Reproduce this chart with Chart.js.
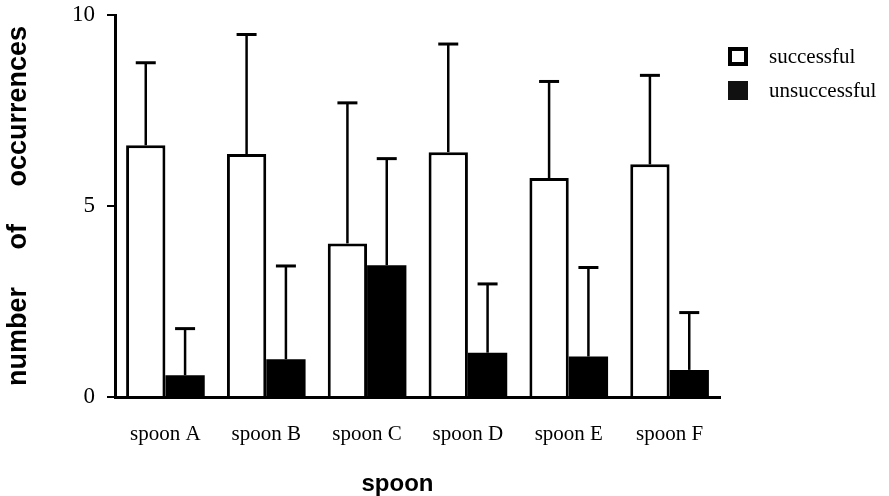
<!DOCTYPE html>
<html>
<head>
<meta charset="utf-8">
<script src="https://cdn.jsdelivr.net/npm/chart.js@4"></script>
<style>
  body { margin: 0; background: #fff; }
  #wrap { width: 889px; height: 496px; position: relative; }
</style>
</head>
<body>
<div id="wrap"><canvas id="spoonChart"></canvas></div>
<script>
// values
const spoons = ['spoon A', 'spoon B', 'spoon C', 'spoon D', 'spoon E', 'spoon F'];
const successful = [6.59, 6.36, 4.02, 6.41, 5.73, 6.09];
const successfulErr = [2.16, 3.13, 3.68, 2.83, 2.53, 2.33];
const unsuccessful = [0.57, 0.99, 3.45, 1.16, 1.06, 0.71];
const unsuccessfulErr = [1.22, 2.44, 2.79, 1.80, 2.33, 1.50];
const yTicks = [0, 5, 10];

const errors = [successfulErr, unsuccessfulErr];

// draws upper error bars with caps
const errorBars = {
    id: 'errorBars',
    afterDatasetsDraw(chart) {
        let ctx = chart.ctx;
        let yScale = chart.scales.y;
        ctx.save();
        ctx.strokeStyle = '#000';
        chart.data.datasets.forEach((ds, i) => {
            let meta = chart.getDatasetMeta(i);
            meta.data.forEach((bar, j) => {
                let top = yScale.getPixelForValue(ds.data[j] + errors[i][j]);
                ctx.lineWidth = 2.5;
                ctx.beginPath();
                ctx.moveTo(bar.x, bar.y);
                ctx.lineTo(bar.x, top);
                ctx.stroke();
                ctx.lineWidth = 3;
                ctx.beginPath();
                ctx.moveTo(bar.x - 10, top);
                ctx.lineTo(bar.x + 10, top);
                ctx.stroke();
            });
        });
        ctx.restore();
    }
};

// legend in the top right corner
const sideLegend = {
    id: 'sideLegend',
    afterDraw(chart) {
        let ctx = chart.ctx;
        ctx.save();
        ctx.lineWidth = 4;
        ctx.strokeStyle = '#000';
        ctx.fillStyle = '#fff';
        ctx.fillRect(730, 49, 16, 15);
        ctx.strokeRect(730, 49, 16, 15);
        ctx.fillStyle = '#111';
        ctx.fillRect(728, 81, 20, 19);
        ctx.fillStyle = '#000';
        ctx.font = '21px "Liberation Serif"';
        ctx.textBaseline = 'middle';
        ctx.fillText(chart.data.datasets[0].label, 769, 57);
        ctx.fillText(chart.data.datasets[1].label, 769, 91);
        ctx.restore();
    }
};

new Chart(document.getElementById('spoonChart'), {
    type: 'bar',
    data: {
        labels: spoons,
        datasets: [{
            label: 'successful',
            data: successful,
            backgroundColor: '#fff',
            borderColor: '#000',
            borderWidth: 3,
            borderSkipped: 'bottom'
        }, {
            label: 'unsuccessful',
            data: unsuccessful,
            backgroundColor: '#000',
            borderColor: '#000',
            borderWidth: 0
        }]
    },
    options: {
        responsive: true,
        maintainAspectRatio: false,
        animation: false,
        layout: { padding: { top: 15, right: 169, left: 0, bottom: 0 } },
        datasets: { bar: { categoryPercentage: 0.78, barPercentage: 1.0 } },
        scales: {
            x: {
                afterFit(scale) { scale.height = 99; },
                grid: { display: false, drawTicks: false },
                border: { display: true, color: '#000', width: 3 },
                ticks: {
                    color: '#000',
                    padding: 25,
                    font: { family: 'Liberation Serif', size: 21 }
                },
                title: {
                    display: true,
                    text: 'spoon      ',
                    color: '#000',
                    padding: { top: 0, bottom: 0 },
                    font: { family: 'Liberation Sans', size: 24, weight: 'bold', lineHeight: 1.0 }
                }
            },
            y: {
                min: 0,
                max: 10,
                afterFit(scale) {
                    scale.width = 115;
                    scale.paddingTop = 0;
                    scale.paddingBottom = 0;
                },
                afterBuildTicks(scale) { scale.ticks = yTicks.map(v => ({ value: v })); },
                grid: { drawOnChartArea: false, drawTicks: true, tickLength: 8, color: '#000', lineWidth: 2 },
                border: { display: true, color: '#000', width: 3 },
                ticks: {
                    color: '#000',
                    padding: 12,
                    font: { family: 'Liberation Serif', size: 23 }
                },
                title: {
                    display: true,
                    text: 'number     of     occurrences',
                    color: '#000',
                    padding: { top: 2, bottom: 0 },
                    font: { family: 'Liberation Sans', size: 27, weight: 'bold' }
                }
            }
        },
        plugins: {
            legend: { display: false },
            tooltip: { enabled: false }
        }
    },
    plugins: [errorBars, sideLegend]
});
</script>
</body>
</html>
